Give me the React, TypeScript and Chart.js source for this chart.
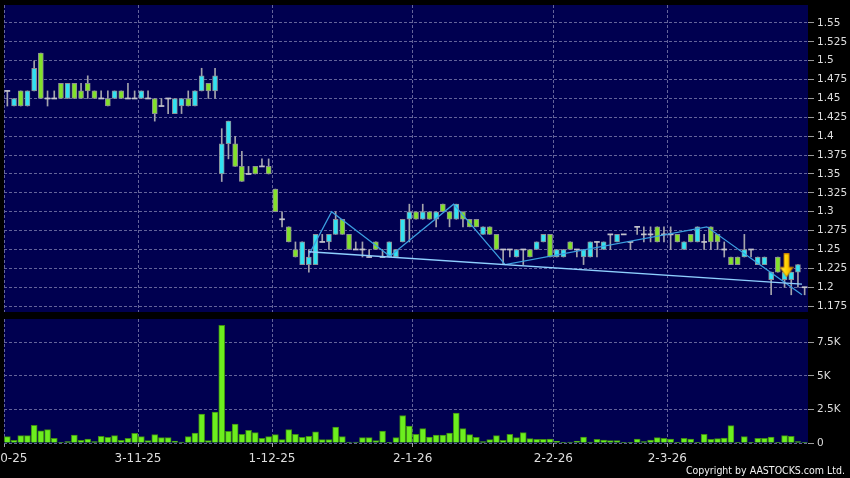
import React, { useEffect, useRef } from 'react';
import { Chart, registerables } from 'chart.js';

Chart.register(...registerables);

const FONT = "'DejaVu Sans', sans-serif";

// Daily OHLC, 2-10-25 .. 30-3-26 (120 trading days)
const opens = [
  1.46, 1.44, 1.46, 1.44, 1.46, 1.51, 1.45, 1.45, 1.47, 1.45,
  1.47, 1.46, 1.47, 1.46, 1.45, 1.45, 1.45, 1.46, 1.45, 1.45,
  1.45, 1.45, 1.45, 1.44, 1.45, 1.43, 1.44, 1.45, 1.44, 1.46,
  1.47, 1.46, 1.35, 1.39, 1.39, 1.36, 1.35, 1.36, 1.36, 1.36,
  1.33, 1.29, 1.28, 1.25, 1.23, 1.23, 1.23, 1.26, 1.26, 1.27,
  1.29, 1.27, 1.25, 1.25, 1.24, 1.26, 1.24, 1.24, 1.24, 1.26,
  1.29, 1.30, 1.29, 1.30, 1.29, 1.31, 1.30, 1.29, 1.30, 1.29,
  1.29, 1.27, 1.28, 1.27, 1.25, 1.25, 1.24, 1.25, 1.25, 1.25,
  1.26, 1.27, 1.24, 1.24, 1.26, 1.25, 1.24, 1.24, 1.26, 1.25,
  1.27, 1.26, 1.27, 1.26, 1.28, 1.27, 1.27, 1.28, 1.27, 1.27,
  1.27, 1.25, 1.27, 1.26, 1.26, 1.28, 1.27, 1.25, 1.24, 1.24,
  1.24, 1.25, 1.23, 1.23, 1.21, 1.24, 1.21, 1.21, 1.22, 1.20,
];
const highs = [
  1.46, 1.45, 1.46, 1.46, 1.50, 1.51, 1.46, 1.46, 1.47, 1.47,
  1.47, 1.47, 1.48, 1.46, 1.46, 1.46, 1.46, 1.46, 1.47, 1.46,
  1.46, 1.46, 1.45, 1.45, 1.45, 1.45, 1.45, 1.46, 1.46, 1.49,
  1.47, 1.49, 1.41, 1.42, 1.40, 1.38, 1.36, 1.36, 1.37, 1.37,
  1.33, 1.30, 1.28, 1.26, 1.26, 1.25, 1.27, 1.27, 1.27, 1.30,
  1.29, 1.27, 1.26, 1.26, 1.25, 1.26, 1.25, 1.26, 1.25, 1.29,
  1.31, 1.30, 1.31, 1.30, 1.30, 1.31, 1.30, 1.31, 1.30, 1.29,
  1.29, 1.28, 1.28, 1.27, 1.25, 1.25, 1.25, 1.25, 1.25, 1.26,
  1.27, 1.27, 1.25, 1.25, 1.26, 1.25, 1.25, 1.26, 1.26, 1.26,
  1.27, 1.27, 1.27, 1.26, 1.28, 1.28, 1.28, 1.28, 1.28, 1.28,
  1.27, 1.26, 1.27, 1.28, 1.27, 1.28, 1.27, 1.26, 1.24, 1.24,
  1.27, 1.25, 1.24, 1.24, 1.22, 1.24, 1.22, 1.22, 1.23, 1.20,
];
const lows = [
  1.44, 1.44, 1.44, 1.44, 1.46, 1.45, 1.44, 1.45, 1.45, 1.45,
  1.45, 1.45, 1.45, 1.45, 1.45, 1.44, 1.45, 1.45, 1.45, 1.45,
  1.45, 1.45, 1.42, 1.44, 1.43, 1.43, 1.43, 1.44, 1.44, 1.46,
  1.45, 1.45, 1.34, 1.37, 1.36, 1.34, 1.35, 1.35, 1.36, 1.35,
  1.30, 1.28, 1.26, 1.24, 1.23, 1.22, 1.23, 1.26, 1.25, 1.27,
  1.27, 1.25, 1.25, 1.24, 1.24, 1.25, 1.24, 1.24, 1.24, 1.26,
  1.26, 1.29, 1.29, 1.29, 1.28, 1.30, 1.28, 1.29, 1.28, 1.28,
  1.28, 1.27, 1.27, 1.25, 1.23, 1.24, 1.24, 1.23, 1.24, 1.25,
  1.26, 1.24, 1.24, 1.24, 1.25, 1.24, 1.23, 1.24, 1.24, 1.25,
  1.25, 1.26, 1.27, 1.25, 1.27, 1.26, 1.26, 1.26, 1.26, 1.25,
  1.26, 1.25, 1.26, 1.26, 1.25, 1.25, 1.25, 1.24, 1.23, 1.23,
  1.24, 1.24, 1.23, 1.23, 1.19, 1.22, 1.20, 1.19, 1.20, 1.19,
];
const closes = [
  1.46, 1.45, 1.44, 1.46, 1.49, 1.45, 1.45, 1.45, 1.45, 1.47,
  1.45, 1.45, 1.46, 1.45, 1.45, 1.44, 1.46, 1.45, 1.45, 1.45,
  1.46, 1.45, 1.43, 1.44, 1.45, 1.45, 1.45, 1.44, 1.46, 1.48,
  1.46, 1.48, 1.39, 1.42, 1.36, 1.34, 1.35, 1.35, 1.36, 1.35,
  1.30, 1.29, 1.26, 1.24, 1.26, 1.24, 1.27, 1.26, 1.27, 1.29,
  1.27, 1.25, 1.25, 1.25, 1.24, 1.25, 1.24, 1.26, 1.25, 1.29,
  1.30, 1.29, 1.30, 1.29, 1.30, 1.30, 1.29, 1.31, 1.29, 1.28,
  1.28, 1.28, 1.27, 1.25, 1.25, 1.25, 1.25, 1.25, 1.24, 1.26,
  1.27, 1.24, 1.25, 1.25, 1.25, 1.25, 1.25, 1.26, 1.26, 1.26,
  1.27, 1.27, 1.27, 1.26, 1.28, 1.27, 1.27, 1.26, 1.27, 1.27,
  1.26, 1.26, 1.26, 1.28, 1.26, 1.26, 1.26, 1.25, 1.23, 1.23,
  1.25, 1.25, 1.24, 1.24, 1.22, 1.22, 1.22, 1.22, 1.23, 1.20,
];
const volumes = [
  470, 200, 545, 545, 1310, 915, 990, 345, 25, 100,
  595, 200, 300, 100, 495, 420, 545, 200, 345, 720,
  470, 175, 620, 395, 395, 150, 75, 470, 740, 2150,
  175, 2300, 8760, 865, 1410, 645, 940, 770, 345, 470,
  620, 250, 990, 645, 420, 495, 840, 250, 250, 1190,
  470, 75, 75, 395, 395, 175, 890, 25, 395, 2050,
  1260, 645, 1065, 445, 595, 595, 740, 2230, 1065, 620,
  420, 100, 250, 545, 200, 645, 395, 770, 320, 270,
  270, 300, 125, 50, 75, 150, 445, 75, 270, 220,
  175, 175, 50, 25, 300, 100, 220, 395, 345, 300,
  50, 345, 300, 25, 645, 270, 320, 370, 1290, 50,
  470, 50, 345, 345, 445, 25, 545, 495, 100, 50,
];

// month boundaries (between trading days) and their labels
const monthTickPos = [-0.5, 19.5, 39.5, 60.5, 81.5, 98.5];
const monthTickLabels = ['2-10-25', '3-11-25', '1-12-25', '2-1-26', '2-2-26', '2-3-26'];

const priceTicks = [1.175, 1.2, 1.225, 1.25, 1.275, 1.3, 1.325, 1.35, 1.375, 1.4, 1.425, 1.45, 1.475, 1.5, 1.525, 1.55];
const volumeTicks = [0, 2500, 5000, 7500];
const volumeTickLabels = ['0', '2.5K', '5K', '7.5K'];

// overlays
const zigzagX = [45.0, 48.4, 57.1, 66.6, 74.3, 104.4, 118.6];
const zigzagY = [1.243, 1.300, 1.241, 1.310, 1.230, 1.280, 1.190];
const trendX = [45.0, 118.6];
const trendY = [1.247, 1.204];
const signalX = [116.3];
const signalY = [1.229];

const PRICE_MIN = 1.1672;
const PRICE_MAX = 1.5738;
const VOL_MAX = 9230;

const BG_PANEL = '#000050';
const GRID = '#64649a';
const LABEL = '#dedede';
const UP = '#31e2f2';
const DOWN = '#82e12a';
const EDGE = '#8e8e96';
const WICK = '#a4a4ac';
const FLAT = '#c4c4cc';

const panelBg = {
  id: 'panelBg',
  beforeDraw(chart: any) {
    const { ctx, chartArea } = chart;
    if (!chartArea) return;
    ctx.save();
    ctx.fillStyle = BG_PANEL;
    ctx.fillRect(chartArea.left, chartArea.top, chartArea.right - chartArea.left, chartArea.bottom - chartArea.top);
    ctx.restore();
  },
};

function makeArrow(): HTMLCanvasElement {
  const c = document.createElement('canvas');
  c.width = 14;
  c.height = 24;
  const g = c.getContext('2d')!;
  const grad = g.createLinearGradient(0, 0, 14, 0);
  grad.addColorStop(0, '#fff25a');
  grad.addColorStop(0.5, '#ffd200');
  grad.addColorStop(1, '#e79a00');
  g.fillStyle = grad;
  g.strokeStyle = '#c77f00';
  g.lineWidth = 1;
  g.beginPath();
  g.moveTo(4.5, 0.5);
  g.lineTo(9.5, 0.5);
  g.lineTo(9.5, 14);
  g.lineTo(13.5, 14);
  g.lineTo(7, 23.5);
  g.lineTo(0.5, 14);
  g.lineTo(4.5, 14);
  g.closePath();
  g.fill();
  g.stroke();
  return c;
}

function gridOpts(drawTicks: boolean, tickLength: number) {
  return {
    color: GRID,
    lineWidth: 1,
    offset: false,
    drawTicks,
    tickLength,
    tickColor: '#9a9a9a',
    tickBorderDash: [],
  };
}

export default function App() {
  const priceRef = useRef<HTMLCanvasElement>(null);
  const volRef = useRef<HTMLCanvasElement>(null);

  useEffect(() => {
    const idx = opens.map((_, i) => i);
    const isFlat = (i: number) => opens[i] === closes[i];
    const bodyData = idx.map((i) => {
      const o = opens[i];
      const c = closes[i];
      return isFlat(i)
        ? { x: i, y: [o - 0.0007, o + 0.0007] }
        : { x: i, y: [Math.min(o, c), Math.max(o, c)] };
    });
    const bodyColors = idx.map((i) => (isFlat(i) ? FLAT : closes[i] > opens[i] ? UP : DOWN));
    const bodyBorderW = idx.map((i) => (isFlat(i) ? 0 : 1));
    const wickData = idx.map((i) => ({ x: i, y: [lows[i], highs[i]] }));

    const xCommon = {
      type: 'linear' as const,
      min: -0.5,
      max: 119.5,
      offset: false,
      bounds: 'data' as const,
      afterBuildTicks: (s: any) => {
        s.ticks = monthTickPos.map((v) => ({ value: v }));
      },
      border: { display: false, dash: [3, 2] },
    };

    const price = new Chart(priceRef.current!, {
      type: 'bar',
      data: {
        datasets: [
          {
            type: 'scatter' as any,
            data: signalX.map((x, i) => ({ x, y: signalY[i] })),
            pointStyle: makeArrow() as any,
            pointRadius: 8,
            order: 0,
          } as any,
          {
            type: 'line',
            data: trendX.map((x, i) => ({ x, y: trendY[i] })),
            borderColor: '#8fd0ff',
            borderWidth: 1.3,
            pointRadius: 0,
            order: 1,
          },
          {
            type: 'line',
            data: zigzagX.map((x, i) => ({ x, y: zigzagY[i] })),
            borderColor: '#3c9fe0',
            borderWidth: 1.3,
            pointRadius: 0,
            tension: 0,
            order: 1,
          },
          {
            type: 'bar',
            data: bodyData as any,
            backgroundColor: bodyColors,
            borderColor: EDGE,
            borderWidth: bodyBorderW,
            borderSkipped: false,
            barThickness: 5,
            grouped: false,
            order: 2,
          } as any,
          {
            type: 'bar',
            data: wickData as any,
            backgroundColor: WICK,
            borderWidth: 0,
            barThickness: 1,
            grouped: false,
            order: 3,
          } as any,
        ],
      },
      options: {
        animation: false,
        responsive: false,
        maintainAspectRatio: false,
        layout: { autoPadding: false, padding: { left: 4, top: 5, right: 0, bottom: 5 } },
        plugins: { legend: { display: false }, tooltip: { enabled: false } },
        scales: {
          x: {
            ...xCommon,
            ticks: { display: false },
            grid: gridOpts(false, 0),
            afterFit: (s: any) => {
              s.height = 0;
              s.paddingLeft = 0;
              s.paddingRight = 0;
            },
          },
          y: {
            type: 'linear',
            position: 'right',
            min: PRICE_MIN,
            max: PRICE_MAX,
            afterBuildTicks: (s: any) => {
              s.ticks = priceTicks.map((v) => ({ value: v }));
            },
            ticks: {
              color: LABEL,
              font: { family: FONT, size: 10.5 },
              padding: 3,
              autoSkip: false,
              callback: (_v: any, i: number) => String(priceTicks[i]),
            },
            grid: gridOpts(true, 6),
            border: { display: false, dash: [3, 2] },
            afterFit: (s: any) => {
              s.width = 42;
              s.paddingTop = 0;
              s.paddingBottom = 0;
            },
          },
        },
      } as any,
      plugins: [panelBg],
    });

    const vol = new Chart(volRef.current!, {
      type: 'bar',
      data: {
        datasets: [
          {
            data: volumes.map((v, i) => ({ x: i, y: v })),
            backgroundColor: '#6cee1e',
            borderColor: '#3e8c14',
            borderWidth: 1,
            borderSkipped: 'bottom',
            barThickness: 6,
            grouped: false,
          } as any,
        ],
      },
      options: {
        animation: false,
        responsive: false,
        maintainAspectRatio: false,
        layout: { autoPadding: false, padding: { left: 4, top: 2, right: 0, bottom: 0 } },
        plugins: { legend: { display: false }, tooltip: { enabled: false } },
        scales: {
          x: {
            ...xCommon,
            ticks: {
              color: LABEL,
              font: { family: FONT, size: 12 },
              padding: 5,
              autoSkip: false,
              maxRotation: 0,
              callback: (_v: any, i: number) => monthTickLabels[i],
            },
            grid: gridOpts(true, 4),
            afterFit: (s: any) => {
              s.height = 35;
              s.paddingLeft = 0;
              s.paddingRight = 0;
            },
          },
          y: {
            type: 'linear',
            position: 'right',
            min: 0,
            max: VOL_MAX,
            afterBuildTicks: (s: any) => {
              s.ticks = volumeTicks.map((v) => ({ value: v }));
            },
            ticks: {
              color: LABEL,
              font: { family: FONT, size: 10.5 },
              padding: 3,
              autoSkip: false,
              callback: (_v: any, i: number) => volumeTickLabels[i],
            },
            grid: gridOpts(true, 6),
            border: { display: false, dash: [3, 2] },
            afterFit: (s: any) => {
              s.width = 42;
              s.paddingTop = 0;
              s.paddingBottom = 0;
            },
          },
        },
      } as any,
      plugins: [panelBg],
    });

    return () => {
      price.destroy();
      vol.destroy();
    };
  }, []);

  return (
    <div
      style={{
        position: 'fixed',
        left: 0,
        top: 0,
        width: 850,
        height: 478,
        background: '#000',
        overflow: 'hidden',
      }}
    >
      <canvas ref={priceRef} width={850} height={317} style={{ position: 'absolute', left: 0, top: 0 }} />
      <canvas ref={volRef} width={850} height={161} style={{ position: 'absolute', left: 0, top: 317 }} />
      <div
        style={{
          position: 'absolute',
          right: 5,
          top: 464,
          color: '#f2f2f2',
          fontFamily: "'DejaVu Sans Condensed', 'DejaVu Sans', sans-serif",
          fontSize: 10.5,
          lineHeight: '13px',
          whiteSpace: 'nowrap',
        }}
      >
        Copyright by AASTOCKS.com Ltd.
      </div>
    </div>
  );
}
